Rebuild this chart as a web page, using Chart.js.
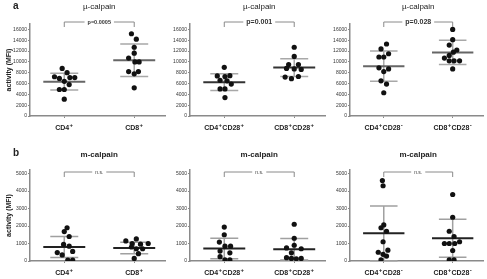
<!DOCTYPE html>
<html><head><meta charset="utf-8">
<script src="https://cdn.jsdelivr.net/npm/chart.js@4.4.0/dist/chart.umd.min.js"></script>
<style>
html,body{margin:0;padding:0;background:#fff;}
body{width:487px;height:279px;position:relative;overflow:hidden;font-family:"Liberation Sans",Arial,sans-serif;}
canvas{position:absolute;}
</style></head><body>
<canvas id="c0" width="170" height="135" style="left:0;top:0"></canvas>
<canvas id="c1" width="170" height="135" style="left:160px;top:0"></canvas>
<canvas id="c2" width="167" height="135" style="left:320px;top:0"></canvas>
<canvas id="c3" width="170" height="139" style="left:0;top:140px"></canvas>
<canvas id="c4" width="170" height="139" style="left:160px;top:140px"></canvas>
<canvas id="c5" width="167" height="139" style="left:320px;top:140px"></canvas>
<script>
// ---------- data ----------
const panelLetters = ['a', 'b'];
const rowTitles = ['µ-calpain', 'm-calpain'];
const yAxisTitle = 'activity (MFI)';
const categories = [
  ['CD4⁺', 'CD8⁺'],
  ['CD4⁺CD28⁺', 'CD8⁺CD28⁺'],
  ['CD4⁺CD28⁻', 'CD8⁺CD28⁻']
];
const pLabelsMu = ['p=0.0005', 'p=0.001', 'p=0.028'];
const pLabelsM = ['n.s.', 'n.s.', 'n.s.'];
const yTicksMu = [0, 2000, 4000, 6000, 8000, 10000, 12000, 14000, 16000];
const yTicksM = [0, 1000, 2000, 3000, 4000, 5000];

// µ-calpain activity
const muCD4 = [8800, 8000, 7250, 6950, 7100, 7100, 6400, 5800, 4900, 4900, 3100];
const muCD4Jit = [-0.03, 0.04, -0.14, -0.07, 0.08, 0.15, 0, 0.07, -0.07, 0, 0];
const muCD8 = [15200, 14200, 12700, 11600, 10700, 10000, 10000, 8200, 8200, 7800, 5200];
const muCD8Jit = [-0.04, 0.03, 0, 0, -0.08, 0.01, 0.07, -0.08, 0.06, 0, 0];
const muCD4CD28p = [9000, 7400, 7300, 7450, 6600, 6500, 5900, 5000, 5000, 3400];
const muCD4CD28pJit = [0, -0.1, 0.01, 0.08, -0.06, 0.04, 0.1, -0.06, 0.01, 0.01];
const muCD8CD28p = [12700, 11000, 9500, 9500, 8800, 8700, 8600, 7200, 6900, 7300];
const muCD8CD28pJit = [0, 0, -0.08, 0.06, -0.11, 0, 0.1, -0.13, -0.04, 0.06];
const muCD4CD28n = [13300, 12400, 11500, 10900, 10900, 8900, 8700, 8200, 6500, 5900, 4300];
const muCD4CD28nJit = [0.04, -0.04, 0.07, -0.07, 0, -0.07, 0.07, 0, -0.04, 0.04, 0];
const muCD8CD28n = [16000, 14100, 13100, 12200, 11800, 11200, 10700, 10200, 10200, 10200, 8700];
const muCD8CD28nJit = [0, 0, -0.05, 0.06, 0.01, -0.05, -0.12, -0.05, 0.02, 0.1, 0];
const muMean = [[6350, 10300], [6250, 8950], [9200, 11750]];
const muSD = [[1550, 3000], [1550, 1650], [2800, 2250]];

// m-calpain activity
const mCD4 = [1900, 1680, 1400, 950, 850, 550, 480, 350, 50, 50];
const mCD4Jit = [0.04, 0, 0.07, -0.01, 0.07, 0.12, -0.1, -0.03, 0.05, 0.12];
const mCD8 = [1150, 1260, 1000, 960, 1000, 800, 700, 700, 420, 150];
const mCD8Jit = [-0.12, 0.03, -0.03, 0.09, 0.2, -0.04, 0.03, 0.12, 0.06, 0];
const mCD4CD28p = [1940, 1500, 1080, 850, 850, 570, 470, 250, 60, 60];
const mCD4CD28pJit = [0, 0, -0.07, 0.01, 0.09, -0.06, 0.08, -0.06, 0.01, 0.08];
const mCD8CD28p = [2100, 1300, 900, 750, 700, 470, 190, 150, 150, 130];
const mCD8CD28pJit = [0, 0, 0, -0.11, 0.1, -0.04, -0.11, -0.04, 0.1, 0.03];
const mCD4CD28n = [4600, 4300, 2060, 1900, 1700, 1100, 500, 620, 380, 280, 60];
const mCD4CD28nJit = [-0.02, -0.01, 0, -0.04, 0.04, -0.01, -0.08, 0.06, -0.01, 0.04, -0.04];
const mCD8CD28n = [3800, 2500, 1700, 1400, 1000, 1000, 1000, 1100, 600, 60, 60];
const mCD8CD28nJit = [0, 0, -0.05, 0.02, -0.12, -0.05, 0.03, 0.1, 0, -0.05, 0.02];
const mMean = [[800, 740], [715, 670], [1580, 1300]];
const mSD = [[600, 330], [585, 610], [1570, 1080]];

// ---------- drawing ----------
const FONT = '"Liberation Sans", Arial, sans-serif';
const AXIS = '#8a8a8a';
const SUP = {'⁺': '+', '⁻': '-'};

function drawSupLabel(ctx, text, cx, cy) {
  const parts = [];
  for (const ch of text) {
    const sup = ch in SUP;
    const last = parts[parts.length - 1];
    const c = sup ? SUP[ch] : ch;
    if (last && last.sup === sup) last.t += c; else parts.push({t: c, sup});
  }
  const fN = 'bold 7px ' + FONT, fS = 'bold 6px ' + FONT;
  let w = 0;
  parts.forEach(p => { ctx.font = p.sup ? fS : fN; p.w = ctx.measureText(p.t).width + (p.sup ? 0.6 : 0); w += p.w; });
  let xx = cx - w / 2;
  ctx.textAlign = 'left'; ctx.textBaseline = 'middle';
  parts.forEach(p => {
    ctx.font = p.sup ? fS : fN;
    ctx.fillText(p.t, xx + (p.sup ? 0.3 : 0), p.sup ? cy - 2.5 : cy);
    xx += p.w;
  });
}

const statPlugin = {
  id: 'stats',
  beforeDatasetsDraw(chart, args, o) {
    const {ctx, scales: {x, y}} = chart;
    ctx.save();
    o.means.forEach((m, i) => {
      const c = i + 1, sd = o.sds[i];
      const xp = x.getPixelForValue(c);
      const yT = y.getPixelForValue(m + sd), yB = y.getPixelForValue(Math.max(0, m - sd));
      const cl = x.getPixelForValue(c - 0.2), cr = x.getPixelForValue(c + 0.2);
      ctx.strokeStyle = o.sdColor; ctx.lineWidth = 1.5;
      ctx.beginPath();
      ctx.moveTo(xp, yT); ctx.lineTo(xp, yB);
      ctx.moveTo(cl, yT); ctx.lineTo(cr, yT);
      ctx.moveTo(cl, yB); ctx.lineTo(cr, yB);
      ctx.stroke();
      const ml = x.getPixelForValue(c - 0.3), mr = x.getPixelForValue(c + 0.3), ym = y.getPixelForValue(m);
      ctx.strokeStyle = o.meanColor; ctx.lineWidth = 2;
      ctx.beginPath(); ctx.moveTo(ml, ym); ctx.lineTo(mr, ym); ctx.stroke();
    });
    ctx.restore();
  },
  afterDraw(chart, args, o) {
    const {ctx, chartArea, scales: {x}} = chart;
    ctx.save();
    const x1 = x.getPixelForValue(1), x2 = x.getPixelForValue(2), mid = (x1 + x2) / 2;
    ctx.fillStyle = '#222'; ctx.textAlign = 'center'; ctx.textBaseline = 'middle';
    ctx.font = o.titleFont;
    ctx.fillText(o.title, mid, o.titleY);
    if (o.letter) {
      ctx.font = 'bold 10px ' + FONT;
      ctx.textAlign = 'left';
      ctx.fillText(o.letter, 13, o.letterY);
      ctx.textAlign = 'center';
    }
    const by = chartArea.top + o.bracketDy;
    ctx.font = o.pFont;
    const tw = ctx.measureText(o.pLabel).width;
    ctx.strokeStyle = '#8a8a8a'; ctx.lineWidth = 1;
    ctx.beginPath();
    ctx.moveTo(x1, by + 5); ctx.lineTo(x1, by); ctx.lineTo(mid - tw / 2 - 3, by);
    ctx.moveTo(mid + tw / 2 + 3, by); ctx.lineTo(x2, by); ctx.lineTo(x2, by + 5);
    ctx.stroke();
    ctx.fillStyle = '#333';
    ctx.fillText(o.pLabel, mid, by + 0.5);
    ctx.fillStyle = '#222';
    o.labels.forEach((t, i) => drawSupLabel(ctx, t, x.getPixelForValue(i + 1), chartArea.bottom + 12));
    ctx.restore();
  }
};

function makePanel(id, col, row, groupA, jitA, groupB, jitB, mean, sd, pLabel) {
  const top = row === 0;
  const ptsA = groupA.map((v, i) => ({x: 1 + jitA[i], y: v}));
  const ptsB = groupB.map((v, i) => ({x: 2 + jitB[i], y: v}));
  const yTicks = top ? yTicksMu : yTicksM;
  new Chart(document.getElementById(id), {
    type: 'scatter',
    data: {datasets: [
      {data: ptsA, backgroundColor: '#111', borderWidth: 0, pointRadius: 2.6},
      {data: ptsB, backgroundColor: '#111', borderWidth: 0, pointRadius: 2.6}
    ]},
    options: {
      responsive: false, animation: false, devicePixelRatio: 1,
      layout: {padding: {top: top ? 24 : 30, left: 0, right: col === 2 ? 2 : 5, bottom: 0}},
      plugins: {
        legend: {display: false}, tooltip: {enabled: false}, title: {display: false},
        stats: {
          means: mean, sds: sd, pLabel: pLabel, labels: categories[col],
          letter: col === 0 ? panelLetters[row] : '', letterY: top ? 6 : 13,
          title: rowTitles[row], titleY: top ? 7 : 15,
          titleFont: (top ? '' : 'bold ') + '8px ' + FONT,
          pFont: (top ? 'bold ' + (col === 0 ? '5.5px ' : '7px ') : '5px ') + FONT,
          bracketDy: top ? -2 : 2,
          sdColor: top ? '#a8a8a8' : '#a0a0a0',
          meanColor: top ? (col === 1 ? '#333' : '#666') : '#222'
        }
      },
      scales: {
        x: {
          type: 'linear', min: 0.51, max: 2.44,
          afterBuildTicks: s => { s.ticks = [{value: 1}, {value: 2}]; },
          afterFit: s => { s.height = top ? 19 : 18; },
          ticks: {display: false},
          grid: {display: true, drawOnChartArea: false, drawTicks: true, tickLength: 2, color: AXIS, lineWidth: 1},
          border: {display: true, color: AXIS, width: 1.5}
        },
        y: {
          type: 'linear', min: 0, max: top ? 17000 : 5200,
          afterBuildTicks: s => { s.ticks = yTicks.map(v => ({value: v})); },
          afterFit: s => { s.width = 30; },
          ticks: {color: '#333', padding: 1, font: {family: FONT, size: 5}, callback: v => String(v)},
          grid: {display: true, drawOnChartArea: false, drawTicks: true, tickLength: 2, color: AXIS, lineWidth: 1},
          border: {display: true, color: AXIS, width: 1.5},
          title: {display: col === 0, text: yAxisTitle, color: '#222', padding: {top: 5, bottom: 0},
                  font: {family: FONT, size: 7, weight: 'bold'}}
        }
      }
    },
    plugins: [statPlugin]
  });
}

makePanel('c0', 0, 0, muCD4, muCD4Jit, muCD8, muCD8Jit, muMean[0], muSD[0], pLabelsMu[0]);
makePanel('c1', 1, 0, muCD4CD28p, muCD4CD28pJit, muCD8CD28p, muCD8CD28pJit, muMean[1], muSD[1], pLabelsMu[1]);
makePanel('c2', 2, 0, muCD4CD28n, muCD4CD28nJit, muCD8CD28n, muCD8CD28nJit, muMean[2], muSD[2], pLabelsMu[2]);
makePanel('c3', 0, 1, mCD4, mCD4Jit, mCD8, mCD8Jit, mMean[0], mSD[0], pLabelsM[0]);
makePanel('c4', 1, 1, mCD4CD28p, mCD4CD28pJit, mCD8CD28p, mCD8CD28pJit, mMean[1], mSD[1], pLabelsM[1]);
makePanel('c5', 2, 1, mCD4CD28n, mCD4CD28nJit, mCD8CD28n, mCD8CD28nJit, mMean[2], mSD[2], pLabelsM[2]);
</script>
</body></html>
